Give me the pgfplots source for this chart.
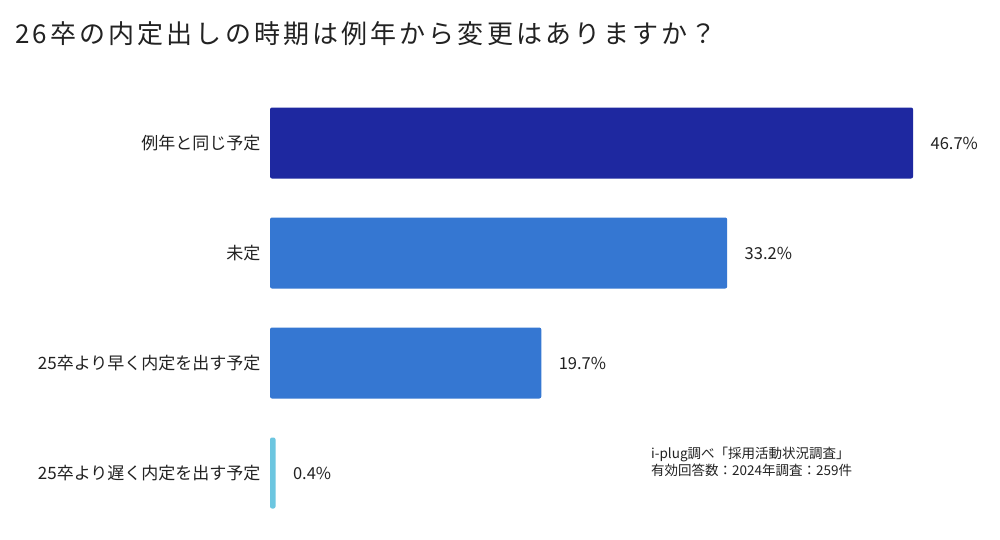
\documentclass[border=0pt]{standalone}
\usepackage{fontspec}
\setmainfont{Noto Sans CJK JP}
\newfontfamily\titlefont[LetterSpace=12]{Noto Sans CJK JP}
\usepackage{pgfplots}
\pgfplotsset{compat=1.18}
\definecolor{navy}{HTML}{1E28A0}
\definecolor{midblue}{HTML}{3577D2}
\definecolor{cyanb}{HTML}{6CC6E0}
\definecolor{txt}{HTML}{222222}
\begin{document}
\begin{tikzpicture}[x=1pt,y=1pt]
\path[use as bounding box, fill=white] (0,0) rectangle (1000,539);
\node[anchor=base west, inner sep=0, text=txt, font=\titlefont\fontsize{26}{30}\selectfont] at (15,539-44) {26卒の内定出しの時期は例年から変更はありますか？};
\node[anchor=north west, inner sep=0, align=left, text=txt, font=\fontsize{13.5}{17}\selectfont] at (651,539-447) {i-plug調べ「採用活動状況調査」\\有効回答数：2024年調査：259件};
\begin{axis}[
  at={(270pt,11pt)}, anchor=south west, scale only axis,
  width=688.5pt, height=440pt,
  xmin=0, xmax=50, ymin=-0.5, ymax=3.5,
  xbar, bar width=71pt, bar shift=0pt,
  axis line style={draw=none},
  major tick length=0pt,
  xtick=\empty,
  ytick={0,1,2,3},
  yticklabels={25卒より遅く内定を出す予定,25卒より早く内定を出す予定,未定,例年と同じ予定},
  yticklabel style={font=\fontsize{17}{19}\selectfont, text=txt, xshift=-6pt},
  /pgf/number format/assume math mode=true,
  nodes near coords={\pgfmathprintnumber[fixed,precision=1,fixed zerofill,assume math mode=true]{\pgfplotspointmeta}\%},
  nodes near coords style={anchor=west, xshift=14pt, text=txt, font=\fontsize{16.5}{18}\selectfont},
  point meta=explicit,
  clip=false,
]
\addplot[fill=navy, draw=none, rounded corners=2pt] coordinates {(46.7,3) [46.7]};
\addplot[fill=midblue, draw=none, rounded corners=2pt] coordinates {(33.2,2) [33.2]};
\addplot[fill=midblue, draw=none, rounded corners=2pt] coordinates {(19.7,1) [19.7]};
\addplot[fill=cyanb, draw=none, rounded corners=2pt] coordinates {(0.4,0) [0.4]};
\end{axis}
\end{tikzpicture}
\end{document}
